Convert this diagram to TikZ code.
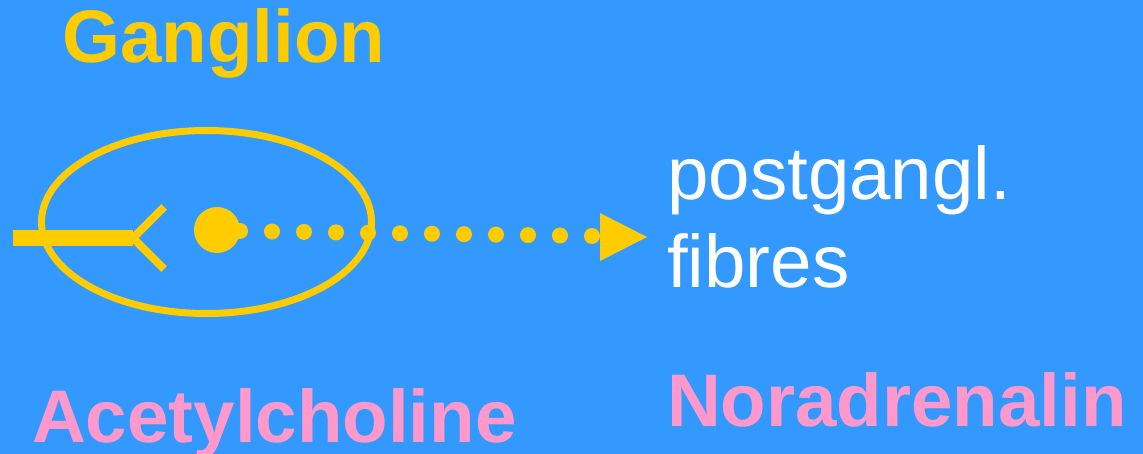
\documentclass[tikz,border=0pt]{standalone}
\usepackage{fontspec}
\setmainfont{Liberation Sans}
\usetikzlibrary{shapes.geometric}
\definecolor{bg}{RGB}{51,153,255}
\definecolor{gold}{RGB}{255,204,0}
\definecolor{pinkc}{RGB}{255,153,204}
\begin{document}
\begin{tikzpicture}[x=1pt,y=-1pt,
  lbl/.style={anchor=base west,inner sep=0pt,font=\fontsize{74.5}{88}\selectfont},
  boldlbl/.style={lbl,font=\fontsize{74.5}{88}\selectfont\bfseries},
  dotfill/.style={circle,fill=gold,inner sep=0pt}]
\fill[bg] (0,0) rectangle (1143,454);
\useasboundingbox (0,0) rectangle (1143,454);
% ganglion outline
\node[draw=gold,line width=7pt,ellipse,minimum width=330pt,minimum height=183pt,inner sep=0pt] (ganglion) at (206.5,222) {};
% preganglionic axon with fork
\coordinate (axstart) at (13,238);
\coordinate (fork) at (133,238);
\coordinate (fu) at (164,207);
\coordinate (fl) at (164,269);
\draw[gold,line width=16pt] (axstart) -- (fork);
\draw[gold,line width=8pt] (fu) -- (fork) -- (fl);
% soma
\node[dotfill,minimum size=46pt] (soma) at (217,230) {};
\node[dotfill,minimum size=15pt] (hillock) at (240,231) {};
% dotted postganglionic fibre
\coordinate (lastdot) at (592,236);
\coordinate (headbase) at (600,237);
\coordinate (head) at (647,237);
\draw[gold,line width=16pt,line cap=round,dash pattern=on 0pt off 32pt] (hillock.center) -- (lastdot);
\fill[gold] ([yshift=-24pt]headbase) -- (head) -- ([yshift=24pt]headbase) -- cycle;
% labels
\node[boldlbl,text=gold] (glabel) at (62,63) {Ganglion};
\node[lbl,text=white] (post1) at (667,200) {postgangl.};
\node[lbl,text=white] (post2) at (667,288) {fibres};
\node[boldlbl,text=pinkc] (ach) at (32,442) {Acetylcholine};
\node[boldlbl,text=pinkc] (nor) at (667,426) {Noradrenalin};
\end{tikzpicture}
\end{document}
